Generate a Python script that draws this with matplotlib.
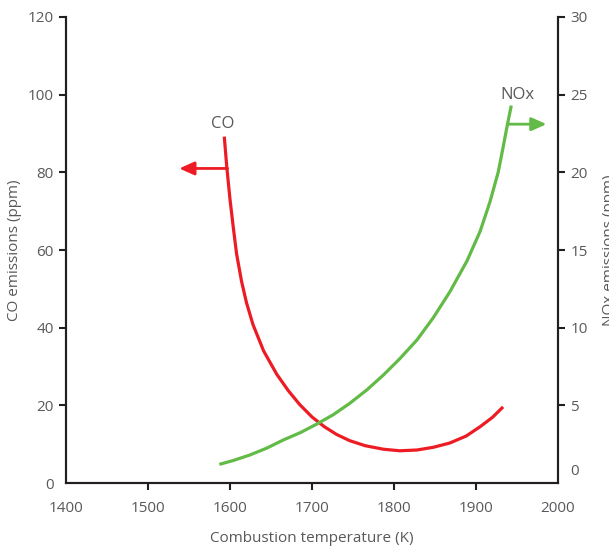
import matplotlib
matplotlib.use("Agg")
import matplotlib.pyplot as plt
from matplotlib.transforms import ScaledTranslation

# CO curve (left axis, ppm)
co_temp = [1593, 1596, 1600, 1604, 1608, 1614, 1620, 1628, 1641, 1657, 1671, 1685,
           1700, 1715, 1730, 1746, 1765, 1787, 1807, 1828, 1848, 1868, 1888, 1905,
           1920, 1933]
co_ppm = [89.2, 81.5, 73.0, 65.8, 59.0, 52.0, 46.5, 40.8, 34.0, 28.0, 23.8, 20.2,
          17.0, 14.5, 12.5, 10.9, 9.6, 8.7, 8.3, 8.5, 9.2, 10.3, 12.1, 14.5,
          16.9, 19.6]

# NOx curve (right axis, ppm)
nox_temp = [1587, 1604, 1624, 1645, 1665, 1686, 1706, 1726, 1746, 1767, 1787, 1807,
            1828, 1848, 1868, 1889, 1905, 1917, 1927, 1933, 1938, 1943]
nox_ppm = [1.2, 1.45, 1.8, 2.25, 2.77, 3.25, 3.8, 4.4, 5.13, 6.0, 6.95, 8.0,
           9.21, 10.65, 12.3, 14.3, 16.2, 18.1, 20.0, 21.6, 23.0, 24.3]

x_ticks = [1400, 1500, 1600, 1700, 1800, 1900, 2000]
co_ticks = [0, 20, 40, 60, 80, 100, 120]
nox_ticks = [0, 5, 10, 15, 20, 25, 30]

RED = "#ED1C24"
GREEN = "#62BB46"
TXT = "#58595B"
AX = "#231F20"

plt.rcParams['font.family'] = ['Open Sans', 'DejaVu Sans']

fig = plt.figure(figsize=(6.09, 5.5), dpi=100)
ax = fig.add_axes([0.1084, 0.1218, 0.8079, 0.8473])
ax2 = ax.twinx()

ax.plot(co_temp, co_ppm, color=RED, lw=2.3, solid_capstyle='butt', solid_joinstyle='round')
ax2.plot(nox_temp, nox_ppm, color=GREEN, lw=2.3, solid_capstyle='butt', solid_joinstyle='round')

ax.set_xlim(1400, 2000)
ax.set_ylim(0, 120)
ax2.set_ylim(0, 30)
ax.set_xticks(x_ticks)
ax.set_yticks(co_ticks)
ax2.set_yticks(nox_ticks)

for a in (ax, ax2):
    a.spines['top'].set_visible(False)
    for s in ('left', 'right', 'bottom'):
        a.spines[s].set_color(AX)
        a.spines[s].set_linewidth(1.5)
    a.tick_params(direction='out', length=5, width=1.5, color=AX,
                  labelcolor=TXT, labelsize=11, pad=4)
ax.tick_params(axis='x', pad=8)

# no tick marks at the corners
ax.xaxis.get_major_ticks()[0].tick1line.set_visible(False)
ax.xaxis.get_major_ticks()[-1].tick1line.set_visible(False)
ax.yaxis.get_major_ticks()[0].tick1line.set_visible(False)
ax2.yaxis.get_major_ticks()[0].tick2line.set_visible(False)

# right "0" sits a little higher in the original
lbl = ax2.yaxis.get_major_ticks()[0].label2
lbl.set_transform(lbl.get_transform() + ScaledTranslation(0, 14 / 100, fig.dpi_scale_trans))

ax.set_xlabel("Combustion temperature (K)", color=TXT, fontsize=11, labelpad=11)
ax.set_ylabel("CO emissions (ppm)", color=TXT, fontsize=11, labelpad=4)
ax2.set_ylabel("NOx emissions (ppm)", color=TXT, fontsize=11, labelpad=10)

# direction arrows
ax.annotate("", xy=(1538, 81), xytext=(1597, 81),
            arrowprops=dict(arrowstyle="-|>,head_length=0.9,head_width=0.4",
                            color=RED, lw=2.0, shrinkA=0, shrinkB=0))
ax2.annotate("", xy=(1986, 23.1), xytext=(1938, 23.1),
             arrowprops=dict(arrowstyle="-|>,head_length=0.9,head_width=0.4",
                             color=GREEN, lw=2.0, shrinkA=0, shrinkB=0))

ax.text(1591, 92.5, "CO", color=TXT, fontsize=12, ha='center', va='center')
ax2.text(1951, 25.0, "NOx", color=TXT, fontsize=12, ha='center', va='center')

fig.savefig("out.png", dpi=100)
